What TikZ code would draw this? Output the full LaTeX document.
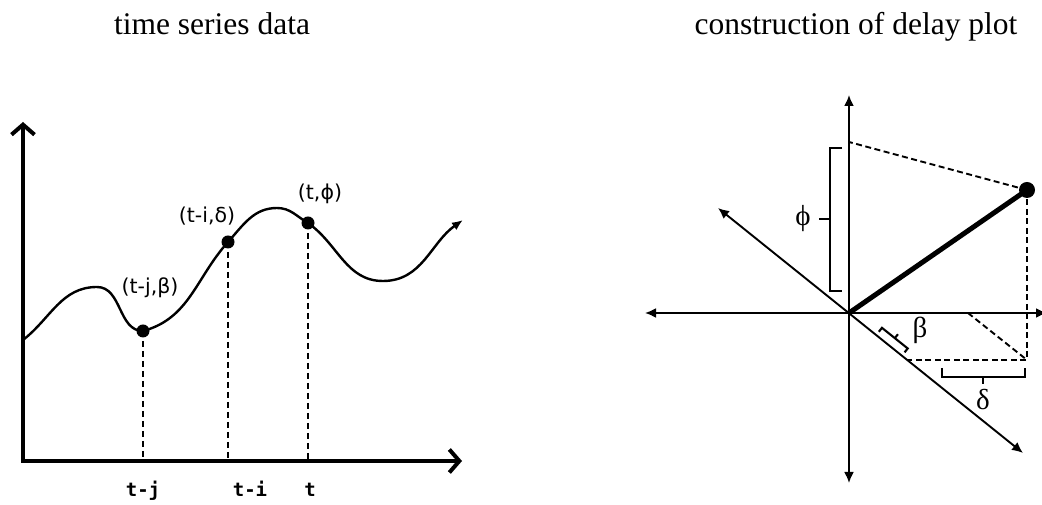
\documentclass[tikz,border=0pt]{standalone}
\usepackage{fontspec}
\setmainfont{Liberation Serif}
\newfontfamily\labfont{DejaVu Sans}
\newfontfamily\monofont{DejaVu Sans Mono}
\usetikzlibrary{arrows.meta,calc}
\begin{document}
\begin{tikzpicture}[x=1pt,y=1pt,
  titlelab/.style={font=\fontsize{31.5}{36}\selectfont, anchor=base, inner sep=0pt},
  ptlab/.style={font=\labfont\fontsize{20.5}{24}\selectfont, inner sep=0pt},
  tlab/.style={font=\monofont\bfseries\fontsize{19}{22}\selectfont, anchor=base, inner sep=0pt},
  greeklab/.style={font=\fontsize{29}{32}\selectfont, inner sep=0pt},
  axisL/.style={line width=4pt, line join=miter,
    {Straight Barb[length=10pt,width=23pt]}-{Straight Barb[length=10pt,width=23pt]}},
  curveline/.style={line width=2.4pt, -{Latex[length=11pt,width=9pt]}},
  dashL/.style={line width=2.2pt, dash pattern=on 6pt off 4pt},
  dotL/.style={circle, fill=black, inner sep=0pt, minimum size=13pt},
  raxis/.style={line width=1.9pt, {Latex[length=11pt,width=10pt]}-{Latex[length=11pt,width=10pt]}},
  rdash/.style={line width=1.9pt, dash pattern=on 6pt off 3.5pt},
  brk/.style={line width=2.1pt, line join=miter},
  dotR/.style={circle, fill=black, inner sep=0pt, minimum size=16pt}
]
\useasboundingbox (0,0) rectangle (1042,505);

% titles
\node[titlelab] (t1) at (212,470) {time series data};
\node[titlelab] (t2) at (856,470) {construction of delay plot};

% ---------- left panel ----------
\coordinate (L0) at (23,44);
\coordinate (Ltop) at (23,383);
\coordinate (Lright) at (462,44);
\draw[axisL] (Ltop) -- (L0) -- (Lright);

\node[dotL] (d1) at (143,174) {};
\node[dotL] (d2) at (228,263) {};
\node[dotL] (d3) at (308,282) {};
\coordinate (c0) at (23,165);
\coordinate (p1) at (97,218);
\coordinate (p2) at (277,297);
\coordinate (v1) at (383,224);
\coordinate (cend) at (463,285);

\draw[curveline] (c0) to[out=38,in=180] (p1)
  to[out=0,in=180] (d1.center)
  to[out=15,in=228] (d2.center)
  to[out=48,in=180] (p2)
  to[out=0,in=150] (d3.center)
  to[out=-35,in=180] (v1)
  to[out=0,in=215] (cend);

\draw[dashL] (d1.center) -- (d1.center |- L0);
\draw[dashL] (d2.center) -- (d2.center |- L0);
\draw[dashL] (d3.center) -- (d3.center |- L0);

\node[ptlab] (l1) at (150,217) {(t-j,β)};
\node[ptlab] (l2) at (207,289) {(t-i,δ)};
\node[ptlab] (l3) at (320,311) {(t,ϕ)};

\node[tlab] (tj) at (143,8) {t-j};
\node[tlab] (ti) at (250,8) {t-i};
\node[tlab] (tt) at (310,8) {t};

% ---------- right panel ----------
\coordinate (O) at (849,192);
\coordinate (Vt) at (849,410);
\coordinate (Vb) at (849,22);
\coordinate (Hl) at (645,192);
\coordinate (Hr) at (1047,192);
\coordinate (DUL) at (718,297);
\coordinate (DLR) at (1023,52);
\draw[raxis] (Vb) -- (Vt);
\draw[raxis] (Hl) -- (Hr);
\draw[raxis] (DUL) -- (DLR);

\node[dotR] (P) at (1027,315) {};
\draw[line width=5pt] (O) -- (P.center);

\coordinate (Pv) at (849,363);
\coordinate (Q) at (1027,145);
\coordinate (D) at (908,145);
\coordinate (H) at (968,192);
\draw[rdash] (P.center) -- (Pv);
\draw[rdash] (P.center) -- (Q) -- (D);
\draw[rdash] (H) -- (Q);

% phi bracket
\draw[brk] (842,357) -- (830,357) -- (830,214) -- (842,214);
\draw[brk] (830,286) -- (819,286);
\node[greeklab] (phi) at (803,286) {ϕ};

% delta bracket
\draw[brk] (942,137) -- (942,128) -- (1025,128) -- (1025,137);
\draw[brk] (983,128) -- (983,121);
\node[greeklab] (delta) at (983,105) {δ};

% beta bracket
\begin{scope}[shift={(O)}, rotate=-38.66]
  \draw[brk] (35,4) -- (35,9) -- (68,9) -- (68,4);
  \draw[brk] (51.5,9) -- (51.5,14);
\end{scope}
\node[greeklab] (beta) at (920,175) {β};

\end{tikzpicture}
\end{document}
